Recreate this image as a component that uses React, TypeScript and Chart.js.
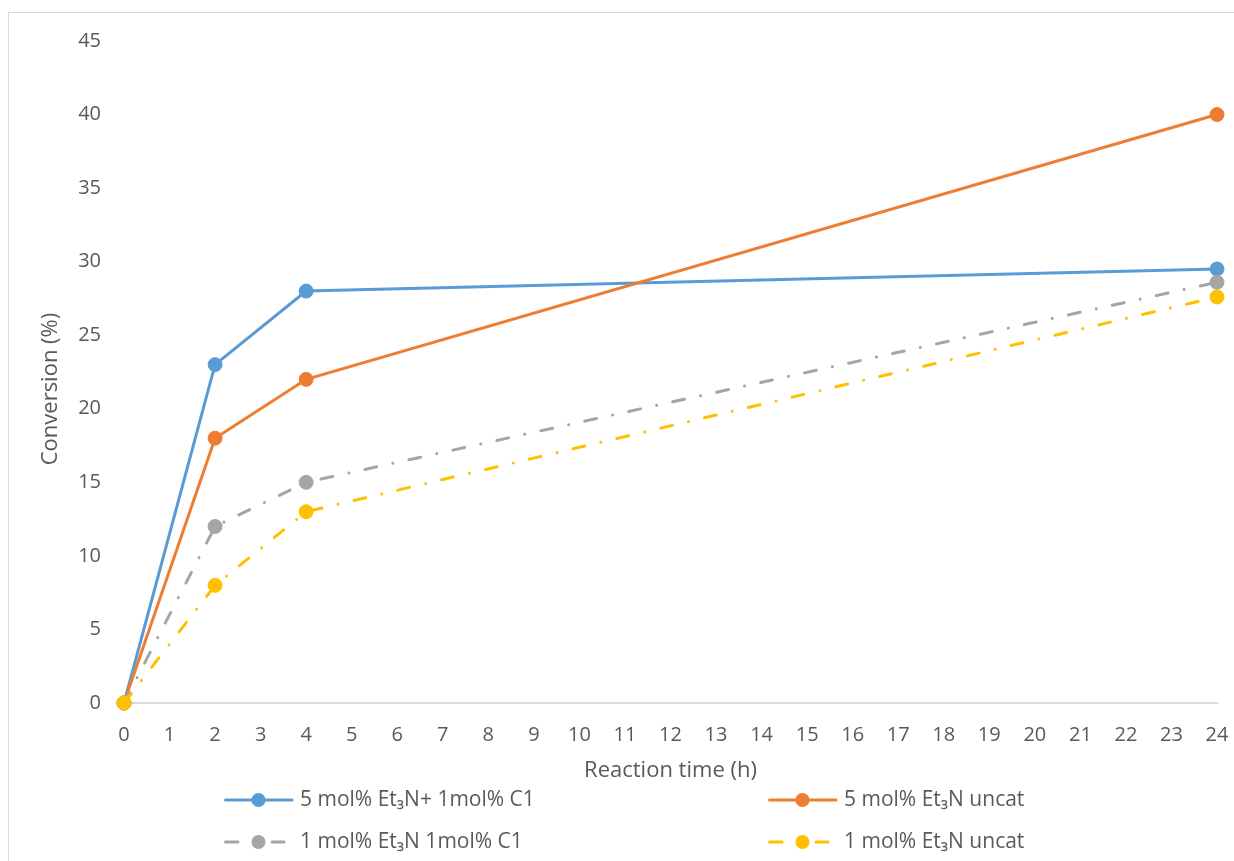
import React, { useEffect, useRef } from "react";
import { Chart, registerables } from "chart.js";

Chart.register(...registerables);

const reactionTimes = [0, 2, 4, 24];
const seriesLabels = [
  "5 mol% Et₃N+ 1mol% C1",
  "5 mol% Et₃N uncat",
  "1 mol% Et₃N 1mol% C1",
  "1 mol% Et₃N uncat",
];
const blueValues = [0, 23, 28, 29.5];
const orangeValues = [0, 18, 22, 40];
const grayValues = [0, 12, 15, 28.6];
const yellowValues = [0, 8, 13, 27.6];
const seriesColors = ["#5B9BD5", "#ED7D31", "#A5A5A5", "#FFC000"];
const seriesDashed = [false, false, true, true];
const xTitle = "Reaction time (h)";
const yTitle = "Conversion (%)";

const FONT = "'Open Sans', 'Noto Sans', sans-serif";
const TEXT = "#595959";
const DASH = [12, 16.5, 0.01, 16.5];

const legendPlugin = {
  id: "customLegend",
  afterDraw(chart: any) {
    const ctx = chart.ctx;
    const slots = [
      { x: 224, y: 800 },
      { x: 768, y: 800 },
      { x: 224, y: 842 },
      { x: 768, y: 842 },
    ];
    chart.data.datasets.forEach((ds: any, i: number) => {
      const { x, y } = slots[i];
      ctx.save();
      ctx.strokeStyle = ds.borderColor;
      ctx.fillStyle = ds.borderColor;
      ctx.lineWidth = 3;
      ctx.lineCap = "round";
      ctx.beginPath();
      if (seriesDashed[i]) {
        ctx.moveTo(x + 1.5, y);
        ctx.lineTo(x + 14, y);
        ctx.moveTo(x + 48, y);
        ctx.lineTo(x + 60, y);
      } else {
        ctx.moveTo(x + 1.5, y);
        ctx.lineTo(x + 68, y);
      }
      ctx.stroke();
      ctx.beginPath();
      ctx.arc(x + 34.5, y, 7, 0, Math.PI * 2);
      ctx.fill();
      ctx.fillStyle = TEXT;
      ctx.font = `21px ${FONT}`;
      ctx.textBaseline = "middle";
      ctx.textAlign = "left";
      ctx.fillText(ds.label, x + 76, y);
      ctx.restore();
    });
  },
};

const yTitlePlugin = {
  id: "yTitle",
  afterDraw(chart: any) {
    const ctx = chart.ctx;
    ctx.save();
    ctx.translate(51, 389);
    ctx.rotate(-Math.PI / 2);
    ctx.fillStyle = TEXT;
    ctx.font = `22px ${FONT}`;
    ctx.textAlign = "center";
    ctx.textBaseline = "middle";
    ctx.fillText(yTitle, 0, 0);
    ctx.restore();
  },
};

export default function App() {
  const canvasRef = useRef<HTMLCanvasElement | null>(null);

  useEffect(() => {
    if (!canvasRef.current) return;
    const all = [blueValues, orangeValues, grayValues, yellowValues];
    const datasets = all.map((vals, i) => ({
      label: seriesLabels[i],
      data: reactionTimes.map((t, j) => ({ x: t, y: vals[j] })),
      borderColor: seriesColors[i],
      backgroundColor: seriesColors[i],
      pointBackgroundColor: seriesColors[i],
      pointBorderColor: seriesColors[i],
      pointBorderWidth: 1,
      pointRadius: 7,
      borderWidth: 3,
      borderDash: seriesDashed[i] ? DASH : [],
      borderCapStyle: seriesDashed[i] ? "round" : "butt",
      tension: 0,
      fill: false,
      clip: false,
      order: 4 - i,
    }));

    const chart = new Chart(canvasRef.current, {
      type: "line",
      data: { datasets } as any,
      options: {
        responsive: false,
        animation: false,
        devicePixelRatio: 1,
        layout: { padding: { left: 0, top: 41, right: 17, bottom: 76 } },
        plugins: {
          legend: { display: false },
          tooltip: { enabled: false },
          title: { display: false },
        },
        scales: {
          x: {
            type: "linear",
            min: 0,
            max: 24,
            ticks: {
              stepSize: 1,
              color: TEXT,
              font: { family: FONT, size: 20 },
              padding: 20,
              maxRotation: 0,
              autoSkip: false,
            },
            grid: { display: false, drawTicks: false },
            border: { display: true, color: "#d9d9d9", width: 2 },
            title: {
              display: true,
              text: xTitle,
              color: TEXT,
              font: { family: FONT, size: 22 },
              padding: { top: 0, bottom: 1 },
            },
            afterFit: (s: any) => {
              s.height = 82;
              s.paddingLeft = 0;
              s.paddingRight = 0;
            },
          },
          y: {
            min: 0,
            max: 45,
            ticks: {
              stepSize: 5,
              color: TEXT,
              font: { family: FONT, size: 20 },
              padding: 23,
            },
            grid: { display: false, drawTicks: false },
            border: { display: false },
            afterFit: (s: any) => {
              s.width = 124;
            },
          },
        },
      } as any,
      plugins: [legendPlugin, yTitlePlugin],
    });
    return () => chart.destroy();
  }, []);

  return (
    <div
      style={{
        position: "fixed",
        left: 0,
        top: 0,
        width: 1234,
        height: 861,
        overflow: "hidden",
        background: "#ffffff",
      }}
    >
      <div
        style={{
          position: "absolute",
          left: 8,
          top: 12,
          width: 1400,
          height: 1000,
          borderTop: "1.5px solid #d9d9d9",
          borderLeft: "1.5px solid #d9d9d9",
        }}
      />
      <canvas
        ref={canvasRef}
        width={1234}
        height={861}
        style={{ position: "absolute", left: 0, top: 0, width: 1234, height: 861 }}
      />
    </div>
  );
}
